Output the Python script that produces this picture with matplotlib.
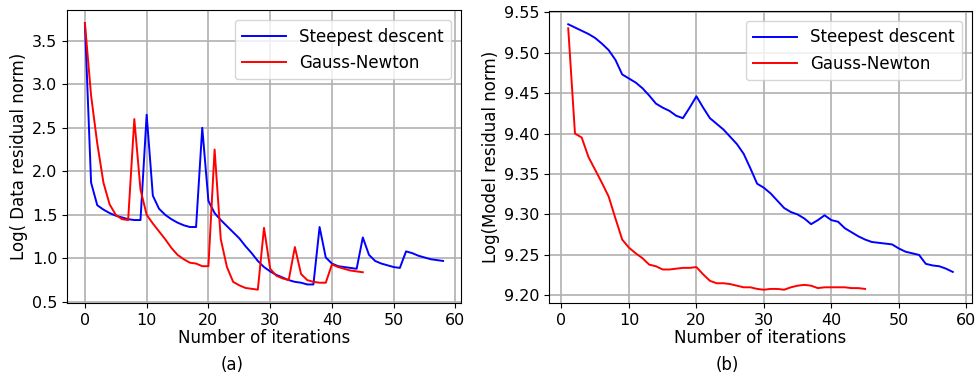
import matplotlib
matplotlib.use("Agg")
import matplotlib.pyplot as plt

plt.rcParams["font.family"] = ["DejaVu Sans"]

# ── Datos ─────────────────────────────────────────────────────────────────────

# (a) residuo de datos
sd_data = [3.70, 1.87, 1.61, 1.56, 1.52, 1.49, 1.47, 1.45, 1.44, 1.44,
           2.65, 1.72, 1.57, 1.50, 1.45, 1.41, 1.38, 1.36, 1.36, 2.50,
           1.66, 1.52, 1.44, 1.37, 1.30, 1.23, 1.14, 1.06, 0.97, 0.90,
           0.85, 0.81, 0.78, 0.75, 0.73, 0.72, 0.70, 0.70, 1.36, 1.01,
           0.94, 0.91, 0.90, 0.89, 0.88, 1.24, 1.04, 0.97, 0.94, 0.92,
           0.90, 0.89, 1.08, 1.06, 1.03, 1.01, 0.99, 0.98, 0.97]
gn_data = [3.70, 2.87, 2.32, 1.87, 1.62, 1.50, 1.45, 1.44, 2.60, 1.79,
           1.50, 1.40, 1.31, 1.22, 1.12, 1.04, 0.99, 0.95, 0.94, 0.91,
           0.91, 2.25, 1.22, 0.90, 0.73, 0.69, 0.66, 0.65, 0.64, 1.35,
           0.88, 0.80, 0.77, 0.75, 1.13, 0.82, 0.75, 0.73, 0.72, 0.72,
           0.93, 0.90, 0.88, 0.86, 0.85, 0.84]
iter_sd_data = list(range(0, len(sd_data)))
iter_gn_data = list(range(0, len(gn_data)))

# (b) residuo del modelo
sd_model = [9.535, 9.531, 9.527, 9.523, 9.518, 9.511, 9.503, 9.491, 9.473, 9.468,
            9.463, 9.456, 9.447, 9.437, 9.432, 9.428, 9.422, 9.419, 9.432, 9.446,
            9.432, 9.419, 9.412, 9.405, 9.396, 9.387, 9.375, 9.357, 9.338, 9.333,
            9.326, 9.317, 9.308, 9.303, 9.300, 9.295, 9.288, 9.293, 9.299, 9.293,
            9.291, 9.283, 9.278, 9.273, 9.269, 9.266, 9.265, 9.264, 9.263, 9.258,
            9.254, 9.252, 9.250, 9.239, 9.237, 9.236, 9.233, 9.229]
gn_model = [9.530, 9.400, 9.395, 9.371, 9.355, 9.339, 9.322, 9.295, 9.269, 9.259,
            9.252, 9.246, 9.238, 9.236, 9.232, 9.232, 9.233, 9.234, 9.234, 9.235,
            9.226, 9.218, 9.215, 9.215, 9.214, 9.212, 9.210, 9.210, 9.208, 9.207,
            9.208, 9.208, 9.207, 9.210, 9.212, 9.213, 9.212, 9.209, 9.210, 9.210,
            9.210, 9.210, 9.209, 9.209, 9.208]
iter_sd_model = list(range(1, len(sd_model) + 1))
iter_gn_model = list(range(1, len(gn_model) + 1))

labels = ["Steepest descent", "Gauss-Newton"]

# ── Figura ────────────────────────────────────────────────────────────────────

W, H = 976, 379
fig = plt.figure(figsize=(W / 100, H / 100), dpi=100)
ax1 = fig.add_axes([67 / W, 1 - 303 / H, (461 - 67) / W, (303 - 10) / H])
ax2 = fig.add_axes([549 / W, 1 - 303 / H, (972 - 549) / W, (303 - 11) / H])


def estilo(ax, ylabel):
    ax.grid(True, color="#b0b0b0", linewidth=1.2)
    ax.set_axisbelow(True)
    ax.set_xticks(range(0, 61, 10))
    ax.set_xlabel("Number of iterations", fontsize=12, labelpad=1)
    ax.set_ylabel(ylabel, fontsize=12, labelpad=3)
    ax.tick_params(labelsize=11.5)
    ax.legend(loc="upper right", fontsize=12, handlelength=2.6,
              handletextpad=0.8, borderaxespad=0.6, borderpad=0.45)


ax1.plot(iter_sd_data, sd_data, color="blue", linewidth=1.4, label=labels[0])
ax1.plot(iter_gn_data, gn_data, color="red", linewidth=1.4, label=labels[1])
estilo(ax1, "Log( Data residual norm)")

ax2.plot(iter_sd_model, sd_model, color="blue", linewidth=1.4, label=labels[0])
ax2.plot(iter_gn_model, gn_model, color="red", linewidth=1.4, label=labels[1])
ax2.yaxis.set_major_formatter(matplotlib.ticker.FormatStrFormatter("%.2f"))
estilo(ax2, "Log(Model residual norm)")

fig.text(232 / W, 1 - 365 / H, "(a)", ha="center", va="center", fontsize=12)
fig.text(727 / W, 1 - 365 / H, "(b)", ha="center", va="center", fontsize=12)

plt.savefig("out.png", dpi=100)
plt.close()
